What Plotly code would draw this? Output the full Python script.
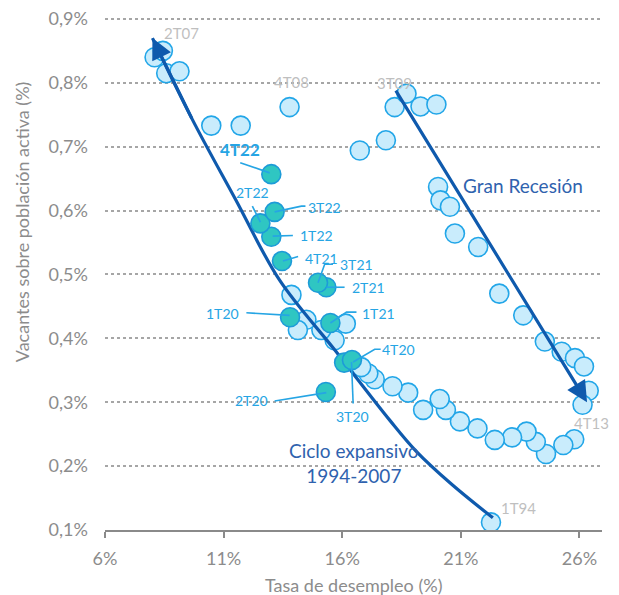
import plotly.graph_objects as go

# ---------------- data ----------------
# Historical quarters (light circles): unemployment rate (%) and vacancies / active population (%)
hist_x = [22.27, 8.09, 8.44, 8.58, 9.14, 10.48, 11.72, 13.78, 16.74, 17.84, 18.21, 18.71, 19.30, 19.97,
          20.04, 20.14, 20.54, 20.75, 21.73, 22.62, 23.63, 24.54, 25.25, 25.81, 26.19, 26.39, 26.13,
          25.78, 25.32, 24.59, 24.16, 23.77, 23.16, 22.43, 21.70, 20.96, 20.37, 20.11, 19.41, 18.78,
          18.12, 17.37, 17.10, 16.80, 16.15, 15.68, 15.12, 14.49, 14.13, 13.86]
hist_y = [0.112, 0.840, 0.850, 0.815, 0.818, 0.733, 0.733, 0.762, 0.694, 0.710, 0.762, 0.783, 0.763, 0.766,
          0.637, 0.616, 0.606, 0.564, 0.543, 0.470, 0.436, 0.395, 0.379, 0.369, 0.356, 0.318, 0.296,
          0.242, 0.233, 0.219, 0.238, 0.254, 0.245, 0.241, 0.259, 0.270, 0.288, 0.305, 0.288, 0.315,
          0.325, 0.336, 0.345, 0.355, 0.423, 0.397, 0.413, 0.429, 0.413, 0.468]

# Recent quarters 2020-2022 (teal circles)
recent_labels = ["1T20", "2T20", "3T20", "4T20", "1T21", "2T21", "3T21", "4T21", "1T22", "2T22", "3T22", "4T22"]
recent_x = [13.80, 15.31, 16.08, 16.41, 15.50, 15.33, 14.98, 13.46, 13.01, 12.55, 13.15, 13.01]
recent_y = [0.433, 0.316, 0.362, 0.366, 0.424, 0.480, 0.487, 0.521, 0.559, 0.580, 0.598, 0.657]

# Axis ticks
x_ticks = [6, 11, 16, 21, 26]
x_ticktext = ["6%", "11%", "16%", "21%", "26%"]
y_ticks = [0.1, 0.2, 0.3, 0.4, 0.5, 0.6, 0.7, 0.8, 0.9]
y_ticktext = ["0,1%", "0,2%", "0,3%", "0,4%", "0,5%", "0,6%", "0,7%", "0,8%", "0,9%"]

# Trend path "Ciclo expansivo 1994-2007" (hand-drawn curve)
cycle_x = [22.35, 20.60, 19.10, 18.00, 15.68, 13.36, 11.51, 9.69, 8.00]
cycle_y = [0.119, 0.172, 0.224, 0.272, 0.382, 0.491, 0.617, 0.742, 0.870]
# Trend arrow "Gran Recesión"
recess_x = [18.22, 26.32]
recess_y = [0.790, 0.300]

# Grey period labels: text, x, y
grey_labels = [("2T07", 9.21, 0.878), ("4T08", 13.86, 0.802), ("3T09", 18.22, 0.800),
               ("4T13", 26.50, 0.267), ("1T94", 23.42, 0.135)]

# Recent labels position and leader-line path (data units)
recent_label_pos = {
    "4T22": (11.70, 0.696, [(11.70, 0.675), (12.94, 0.659)]),
    "3T22": (15.26, 0.605, [(13.15, 0.598), (14.28, 0.607), (14.45, 0.607)]),
    "2T22": (12.21, 0.628, [(12.21, 0.607), (12.55, 0.582)]),
    "1T22": (14.91, 0.561, [(13.07, 0.560), (13.92, 0.561)]),
    "4T21": (15.12, 0.525, [(13.50, 0.521), (14.14, 0.528)]),
    "3T21": (16.60, 0.515, [(14.98, 0.487), (15.26, 0.516), (15.61, 0.516)]),
    "2T21": (17.09, 0.479, [(15.33, 0.480), (16.10, 0.480)]),
    "1T21": (17.51, 0.439, [(15.50, 0.424), (16.18, 0.441), (16.60, 0.441)]),
    "1T20": (10.97, 0.439, [(11.96, 0.440), (13.78, 0.436)]),
    "4T20": (18.38, 0.383, [(16.46, 0.363), (17.37, 0.383), (17.62, 0.383)]),
    "3T20": (16.43, 0.277, [(16.39, 0.363), (16.46, 0.298)]),
    "2T20": (12.17, 0.302, [(13.15, 0.302), (15.33, 0.315)]),
}

# ---------------- styles ----------------
FONT = "Lato, 'Open Sans', sans-serif"
GREY_TXT = "#8c8c8c"
LIGHT_FILL = "#c9ecfc"
LIGHT_LINE = "#22a6e8"
TEAL_FILL = "#2fc6c2"
TEAL_LINE = "#1d9bd8"
LABEL_BLUE = "#26a5e4"
DARK_BLUE = "#0f5aad"
TEXT_BLUE = "#2f62ae"

fig = go.Figure()

fig.add_trace(go.Scatter(
    x=hist_x, y=hist_y, mode="markers",
    marker=dict(size=19, color=LIGHT_FILL, line=dict(color=LIGHT_LINE, width=1.6)),
    hoverinfo="skip", showlegend=False))

fig.add_trace(go.Scatter(
    x=cycle_x, y=cycle_y, mode="lines",
    line=dict(color=DARK_BLUE, width=3.2, shape="spline", smoothing=1.0),
    hoverinfo="skip", showlegend=False))

fig.add_trace(go.Scatter(
    x=recent_x, y=recent_y, mode="markers", text=recent_labels,
    marker=dict(size=19, color=TEAL_FILL, line=dict(color=TEAL_LINE, width=1.6)),
    hoverinfo="skip", showlegend=False))

annotations = []
shapes = []

# arrowheads / arrows
annotations.append(dict(x=cycle_x[-1], y=cycle_y[-1], ax=cycle_x[-2], ay=cycle_y[-2],
                        xref="x", yref="y", axref="x", ayref="y", text="", showarrow=True,
                        arrowhead=2, arrowsize=1.3, arrowwidth=3.2, arrowcolor=DARK_BLUE, standoff=0))
annotations.append(dict(x=recess_x[1], y=recess_y[1], ax=recess_x[0], ay=recess_y[0],
                        xref="x", yref="y", axref="x", ayref="y", text="", showarrow=True,
                        arrowhead=2, arrowsize=1.3, arrowwidth=3.2, arrowcolor=DARK_BLUE, standoff=0))

annotations.append(dict(x=23.62, y=0.640, xref="x", yref="y", text="Gran Recesión", showarrow=False,
                        font=dict(family=FONT, size=19, color=TEXT_BLUE)))
annotations.append(dict(x=16.49, y=0.205, xref="x", yref="y", text="Ciclo expansivo<br>1994-2007",
                        showarrow=False, align="center",
                        font=dict(family=FONT, size=19, color=TEXT_BLUE)))

for t, gx, gy in grey_labels:
    annotations.append(dict(x=gx, y=gy, xref="x", yref="y", text=t, showarrow=False,
                            font=dict(family=FONT, size=15, color="#bfbfbf")))

for lab, (lx, ly, path) in recent_label_pos.items():
    bold = lab == "4T22"
    annotations.append(dict(x=lx, y=ly, xref="x", yref="y",
                            text=f"<b>{lab}</b>" if bold else lab, showarrow=False,
                            font=dict(family=FONT, size=17 if bold else 14, color=LABEL_BLUE)))
    d = "M " + " L ".join(f"{px},{py}" for px, py in path)
    shapes.append(dict(type="path", path=d, xref="x", yref="y", layer="above",
                       line=dict(color=LABEL_BLUE, width=1.6)))

# axis titles
annotations.append(dict(x=0.5, y=-0.1075, xref="paper", yref="paper", text="Tasa de desempleo (%)",
                        showarrow=False, yanchor="middle",
                        font=dict(family=FONT, size=18, color=GREY_TXT)))
annotations.append(dict(x=-0.167, y=0.600, xref="paper", yref="paper",
                        text="Vacantes sobre población activa (%)", textangle=-90,
                        showarrow=False, xanchor="center", yanchor="middle",
                        font=dict(family=FONT, size=18, color=GREY_TXT)))

# The page body has an 8px margin: the figure is offset by it, so it is sized to end at the window edge.
fig.update_layout(
    width=611, height=587,
    margin=dict(l=97, r=17, t=9, b=65, autoexpand=False),
    paper_bgcolor="white", plot_bgcolor="white",
    font=dict(family=FONT, color=GREY_TXT),
    annotations=annotations, shapes=shapes,
    xaxis=dict(range=[6, 26.95], tickvals=x_ticks, ticktext=x_ticktext, automargin=False,
               showline=True, linecolor="#8a8a8a", linewidth=1.5,
               ticks="outside", ticklen=6, tickwidth=1.5, tickcolor="#8a8a8a",
               showgrid=False, zeroline=False, ticklabelstandoff=6, ticklabeloverflow="allow",
               tickfont=dict(family=FONT, size=18, color=GREY_TXT)),
    yaxis=dict(range=[0.1, 0.903], tickvals=y_ticks, ticktext=y_ticktext, automargin=False,
               showline=False, showgrid=True, gridcolor="#a6a6a6", gridwidth=1.5, griddash="dot",
               zeroline=False, ticks="", ticklabelstandoff=16, ticklabeloverflow="allow",
               tickfont=dict(family=FONT, size=18, color=GREY_TXT)),
)

fig.write_html("out.html")
